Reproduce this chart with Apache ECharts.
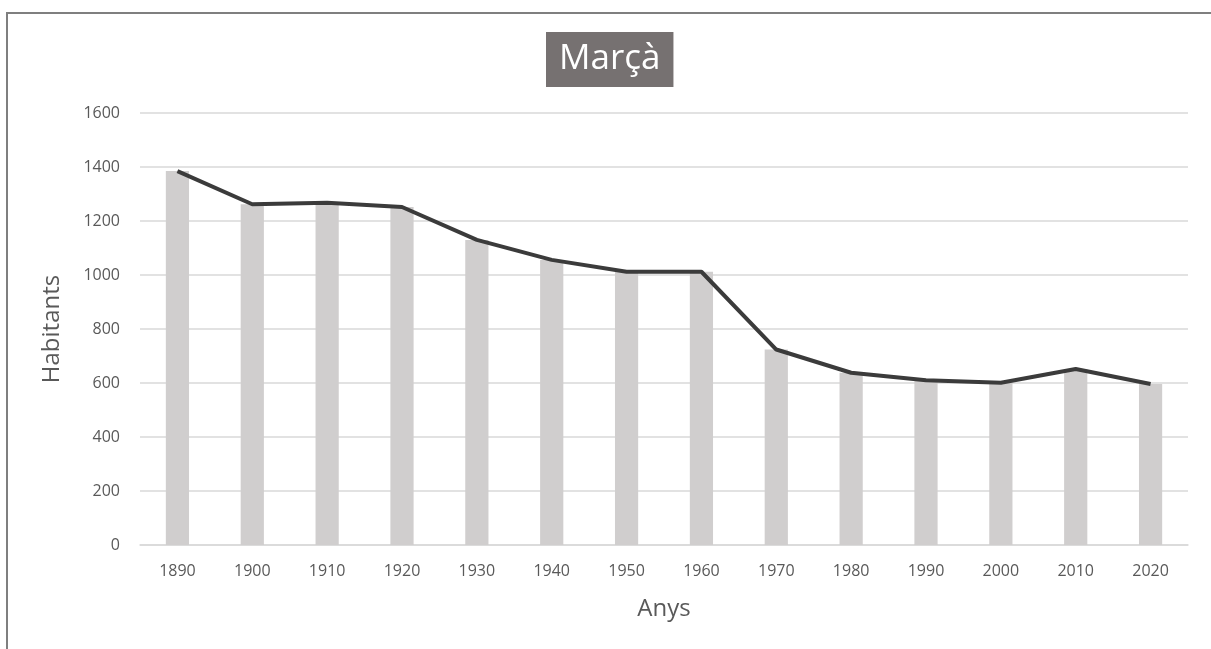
<!DOCTYPE html>
<html>
<head>
<meta charset="utf-8">
<script src="https://cdn.jsdelivr.net/npm/echarts@6/dist/echarts.min.js"></script>
<style>
  html, body { margin: 0; padding: 0; background: #fff; }
  #frame {
    position: absolute;
    left: 6px;
    top: 12px;
    width: 1205px;
    height: 637px;
    border-top: 2px solid #7f7f7f;
    border-left: 2px solid #7f7f7f;
    box-sizing: border-box;
  }
  #chart { position: absolute; left: 0; top: 0; width: 1211px; height: 649px; }
</style>
</head>
<body>
<div id="frame"></div>
<div id="chart"></div>
<script>
// dades de població
const years = ["1890", "1900", "1910", "1920", "1930", "1940", "1950", "1960", "1970", "1980", "1990", "2000", "2010", "2020"];
const habitants = [1385, 1262, 1268, 1252, 1130, 1056, 1012, 1012, 724, 638, 610, 601, 652, 596];
const yTicks = [0, 200, 400, 600, 800, 1000, 1200, 1400, 1600];

const chart = echarts.init(document.getElementById("chart"));
const labelFont = "'Open Sans', sans-serif";

chart.setOption({
  animation: false,
  title: {
    text: "Marçà",
    left: 546,
    top: 32,
    backgroundColor: "#767171",
    padding: [10, 13, 10, 13],
    textStyle: { color: "#ffffff", fontSize: 35, fontWeight: "normal", fontFamily: labelFont }
  },
  grid: { left: 140, right: 23, top: 113, bottom: 104 },
  xAxis: {
    type: "category",
    data: years,
    name: "Anys",
    nameLocation: "middle",
    nameGap: 52,
    nameTextStyle: { color: "#595959", fontSize: 24, fontFamily: labelFont },
    axisLine: { lineStyle: { color: "#d9d9d9", width: 1.5 } },
    axisTick: { show: false },
    axisLabel: { color: "#595959", fontSize: 16, margin: 18, fontFamily: labelFont }
  },
  yAxis: {
    type: "value",
    min: yTicks[0],
    max: yTicks[yTicks.length - 1],
    interval: 200,
    name: "Habitants",
    nameLocation: "middle",
    nameGap: 76,
    nameTextStyle: { color: "#595959", fontSize: 24, fontFamily: labelFont },
    axisLine: { show: false },
    axisTick: { show: false },
    splitLine: { lineStyle: { color: "#d9d9d9", width: 1.5 } },
    axisLabel: { color: "#595959", fontSize: 16, margin: 20, fontFamily: labelFont, formatter: (v) => String(v) }
  },
  series: [
    {
      type: "bar",
      data: habitants,
      barWidth: "31%",
      itemStyle: { color: "#d0cece" },
      z: 2
    },
    {
      type: "line",
      data: habitants,
      symbol: "none",
      lineStyle: { color: "#3b3b3b", width: 4 },
      z: 3
    }
  ]
});
</script>
</body>
</html>
